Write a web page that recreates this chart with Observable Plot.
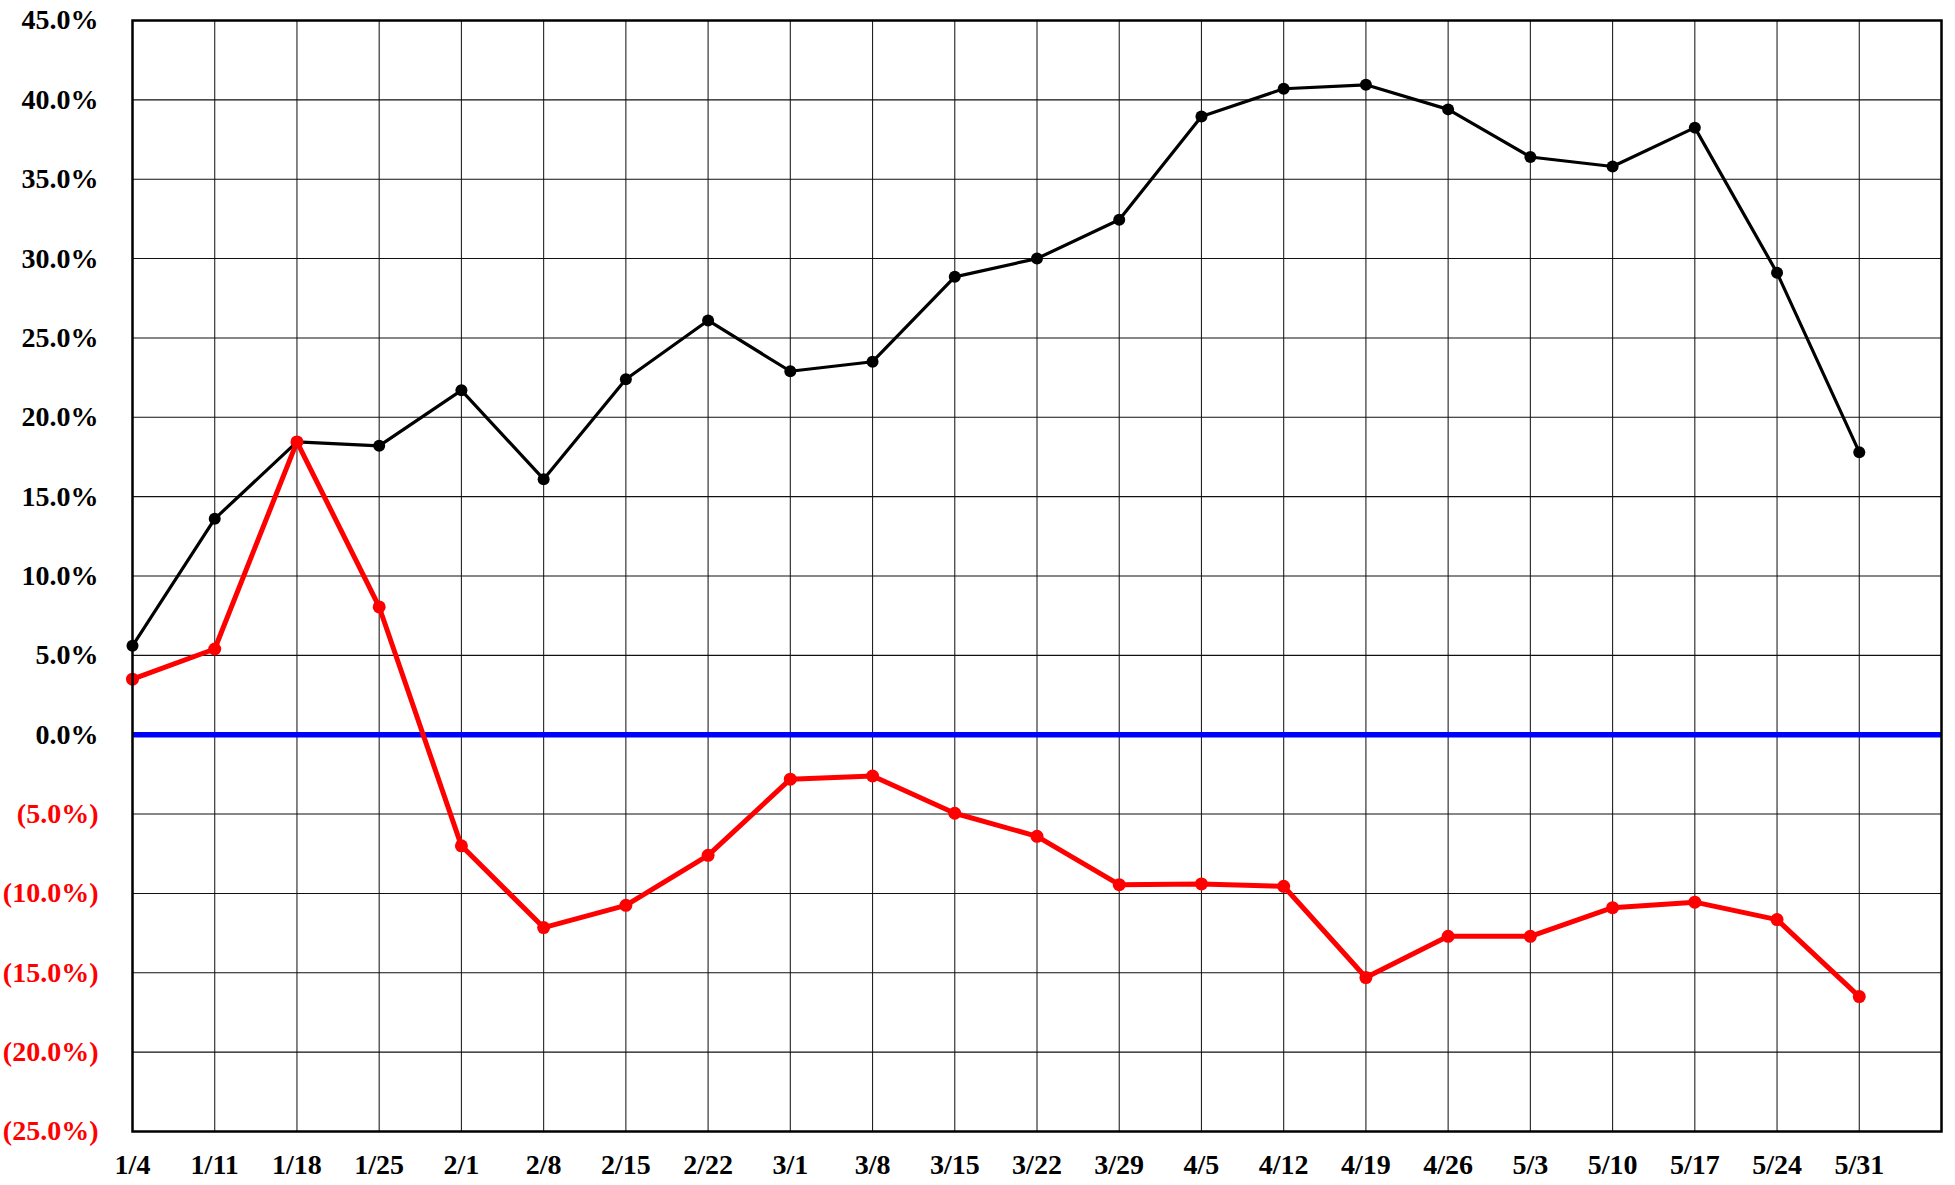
<!DOCTYPE html>
<html>
<head>
<meta charset="utf-8">
<script src="https://cdn.jsdelivr.net/npm/d3@7"></script>
<script src="https://cdn.jsdelivr.net/npm/@observablehq/plot@0.6"></script>
<style>
  html, body { margin: 0; padding: 0; background: #fff; overflow: hidden; }
  svg { display: block; }
</style>
</head>
<body>
<div id="chart"></div>
<script>
// Week labels (x categories)
const weekLabels = ["1/4","1/11","1/18","1/25","2/1","2/8","2/15","2/22","3/1","3/8","3/15","3/22","3/29","4/5","4/12","4/19","4/26","5/3","5/10","5/17","5/24","5/31"];
// Black series (%)
const blackSeries = [5.6, 13.6, 18.45, 18.2, 21.7, 16.1, 22.4, 26.1, 22.9, 23.5, 28.85, 30.0, 32.45, 38.95, 40.7, 40.95, 39.4, 36.4, 35.8, 38.25, 29.1, 17.8];
// Red series (%)
const redSeries = [3.5, 5.4, 18.45, 8.05, -7.0, -12.15, -10.75, -7.6, -2.8, -2.6, -4.95, -6.4, -9.45, -9.4, -9.55, -15.3, -12.7, -12.7, -10.9, -10.55, -11.65, -16.5];
// Y tick values (%)
const yTicks = [-25, -20, -15, -10, -5, 0, 5, 10, 15, 20, 25, 30, 35, 40, 45];
// Vertical gridline slots (one extra empty week at the right end)
const xSlots = d3.range(weekLabels.length + 1);

const blackData = weekLabels.map((w, i) => ({i, v: blackSeries[i]}));
const redData = weekLabels.map((w, i) => ({i, v: redSeries[i]}));

const font = "'Liberation Serif', 'Times New Roman', serif";
const fmt = v => v < 0 ? `(${(-v).toFixed(1)}%)` : `${v.toFixed(1)}%`;

const chart = Plot.plot({
  width: 1955,
  height: 1185,
  marginLeft: 132,
  marginRight: 14,
  marginTop: 20,
  marginBottom: 54,
  style: {background: "#fff", fontFamily: font},
  x: {type: "linear", domain: [0, weekLabels.length], label: null},
  y: {type: "linear", domain: [-25, 45], axis: null, label: null},
  marks: [
    Plot.ruleX(xSlots, {x: d => d, stroke: "#222", strokeWidth: 1.1}),
    Plot.ruleY(yTicks, {y: d => d, stroke: "#111", strokeWidth: 1.1}),
    Plot.ruleY([0], {y: d => d, stroke: "#0000ff", strokeWidth: 5.5}),
    Plot.line(blackData, {x: "i", y: "v", stroke: "#000", strokeWidth: 3.2}),
    Plot.dot(blackData, {x: "i", y: "v", r: 6, fill: "#000", stroke: "none"}),
    Plot.line(redData, {x: "i", y: "v", stroke: "#ff0000", strokeWidth: 5}),
    Plot.dot(redData, {x: "i", y: "v", r: 6.5, fill: "#ff0000", stroke: "none"}),
    Plot.frame({stroke: "#000", strokeWidth: 2.5}),
    Plot.axisX(d3.range(weekLabels.length), {
      label: null,
      tickSize: 0,
      tickPadding: 23,
      tickFormat: i => weekLabels[i],
      fontSize: 28,
      fontWeight: "bold",
      fontFamily: font,
      fill: "#000"
    }),
    Plot.text(yTicks, {
      y: d => d,
      frameAnchor: "left",
      text: fmt,
      textAnchor: "end",
      dx: -34,
      fontSize: 28,
      fontWeight: "bold",
      fontFamily: font,
      fill: d => d < 0 ? "#ff0000" : "#000"
    })
  ]
});
document.getElementById("chart").appendChild(chart);
</script>
</body>
</html>
